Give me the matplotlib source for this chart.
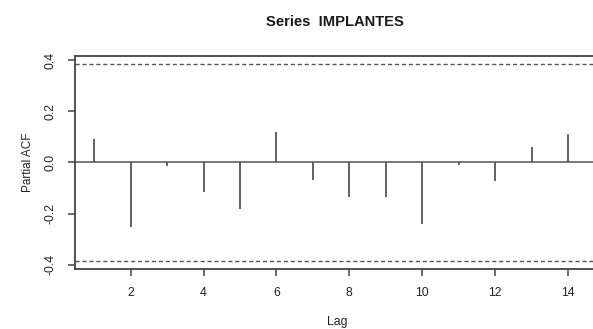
import matplotlib
matplotlib.use('Agg')
import matplotlib.pyplot as plt
import numpy as np

# partial autocorrelations
lags = [1, 2, 3, 4, 5, 6, 7, 8, 9, 10, 11, 12, 13, 14]
pacf = [0.093, -0.251, -0.014, -0.116, -0.181, 0.120, -0.069,
        -0.134, -0.134, -0.242, -0.010, -0.072, 0.061, 0.113]
conf = 0.386
x_ticks = [2, 4, 6, 8, 10, 12, 14]
y_ticks = [-0.4, -0.2, 0.0, 0.2, 0.4]

plt.rcParams['font.family'] = ['Liberation Sans', 'DejaVu Sans']
line_col = '#555555'
frame_col = '#444444'

fig = plt.figure(figsize=(5.93, 3.29), dpi=100)
ax = fig.add_axes([0.1265, 0.1824, 0.885, 0.6474])

ax.vlines(lags, 0, pacf, color=line_col, linewidth=1.3)
ax.axhline(0, color=line_col, linewidth=1.1)
ax.axhline(conf, color=line_col, linewidth=1.0, linestyle=(0, (3, 2)))
ax.axhline(-conf, color=line_col, linewidth=1.0, linestyle=(0, (3, 2)))

ax.set_xlim(0.474, 14.87)
ax.set_ylim(-0.417, 0.417)
ax.set_xticks(x_ticks)
ax.set_yticks(y_ticks)
ax.set_yticklabels(['{:.1f}'.format(v) for v in y_ticks], rotation=90, va='center')

for s in ax.spines.values():
    s.set_color(frame_col)
    s.set_linewidth(1.3)
ax.tick_params(direction='out', length=5, width=1.1, color=frame_col,
               labelsize=8.8, labelcolor='#222222', pad=8)

ax.set_xlabel('Lag', fontsize=8.8, color='#222222', labelpad=12)
ax.set_ylabel('Partial ACF', fontsize=8.5, color='#222222', labelpad=8)
fig.text(0.564, 0.932, 'Series  IMPLANTES', ha='center', va='center',
         fontsize=10.6, fontweight='bold', color='#1a1a1a')

fig.savefig('out.png', dpi=100)
